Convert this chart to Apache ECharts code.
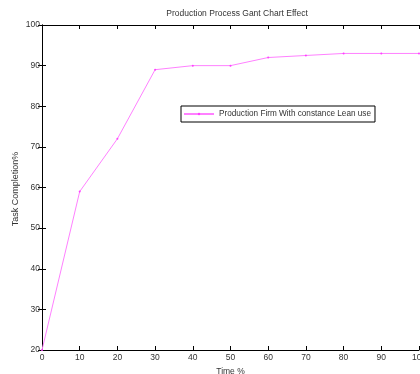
<!DOCTYPE html>
<html><head><meta charset="utf-8">
<script src="https://cdn.jsdelivr.net/npm/echarts@6/dist/echarts.min.js"></script>
<style>html,body{margin:0;padding:0;background:#fff}#c{width:420px;height:374px}</style>
</head><body><div id="c"></div>
<script>
const timePct = [0, 10, 20, 30, 40, 50, 60, 70, 80, 90, 100];
const completion = [20, 59, 72, 89, 90, 90, 92, 92.5, 93, 93, 93];
const seriesName = 'Production Firm With constance Lean use';

const font = 'Liberation Sans, Arial, sans-serif';
const chart = echarts.init(document.getElementById('c'));
const axisLine = {show: true, lineStyle: {color: '#000', width: 1}};
const tick = {show: true, inside: true, length: 4, lineStyle: {color: '#000'}};
chart.setOption({
  animation: false,
  title: {text: 'Production Process Gant Chart Effect', left: 232, top: 4, textAlign: 'center',
    textStyle: {fontFamily: font, fontSize: 8.5, fontWeight: 'normal', color: '#333'}},
  legend: {left: 181, top: 106, orient: 'horizontal', padding: [4, 4, 4, 2],
    borderColor: '#000', borderWidth: 1, itemWidth: 30, itemHeight: 3, itemGap: 3,
    textStyle: {fontFamily: font, fontSize: 8.2, color: '#333'},
    data: [{name: seriesName}]},
  grid: {left: 42, top: 25, right: 1, bottom: 24, containLabel: false, outerBoundsMode: 'none'},
  xAxis: [{type: 'value', min: 0, max: 100, interval: 10, axisLine, axisTick: tick,
    splitLine: {show: false}, name: 'Time %', nameLocation: 'middle', nameGap: 15,
    nameTextStyle: {fontFamily: font, fontSize: 8.5, color: '#333'},
    axisLabel: {fontFamily: font, fontSize: 8.5, color: '#333', margin: 3}},
    {type: 'value', position: 'top', min: 0, max: 100, interval: 10, axisLine, axisTick: tick,
    axisLabel: {show: false}, splitLine: {show: false}}],
  yAxis: [{type: 'value', min: 20, max: 100, interval: 10, axisLine, axisTick: tick,
    splitLine: {show: false},
    axisLabel: {fontFamily: font, fontSize: 8.5, color: '#333', margin: 2}},
    {type: 'value', position: 'right', min: 20, max: 100, interval: 10, axisLine, axisTick: tick,
    axisLabel: {show: false}, splitLine: {show: false}}],
  graphic: [{type: 'text', x: 16, y: 189, rotation: Math.PI / 2,
    style: {text: 'Task Completion%', font: '9px ' + font, fill: '#333',
      textAlign: 'center', textVerticalAlign: 'middle'}}],
  series: [{name: seriesName, type: 'line', data: timePct.map((x, i) => [x, completion[i]]),
    symbol: 'circle', symbolSize: 2, showSymbol: true,
    lineStyle: {color: '#ff80ff', width: 1}, itemStyle: {color: '#ff40ff'}}]
});
</script></body></html>
